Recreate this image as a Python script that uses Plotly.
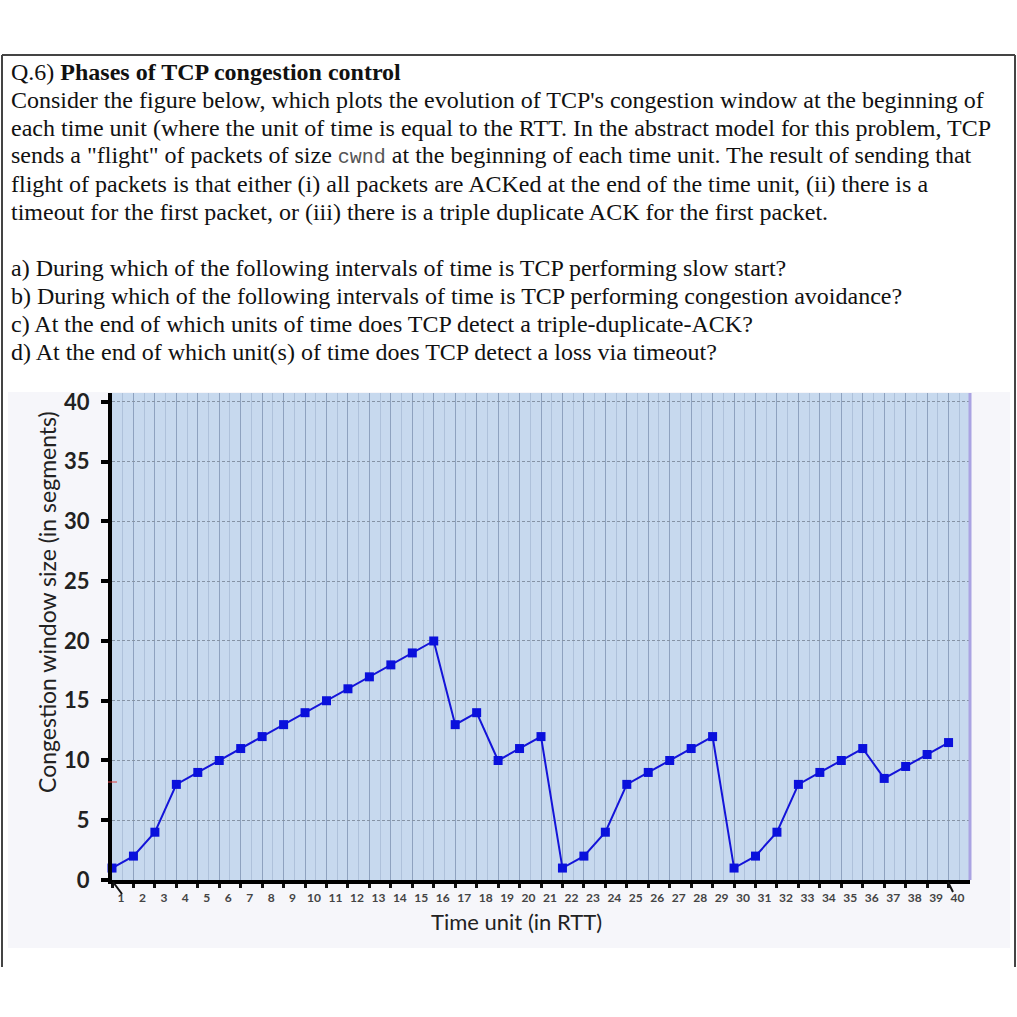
import plotly.graph_objects as go

# ---- data ----
time_units = list(range(1, 41))
cwnd = [1, 2, 4, 8, 9, 10, 11, 12, 13, 14, 15, 16, 17, 18, 19, 20,
        13, 14, 10, 11, 12, 1, 2, 4, 8, 9, 10, 11, 12, 1, 2, 4, 8, 9,
        10, 11, 8.5, 9.5, 10.5, 11.5]
x_tick_labels = [str(t) for t in time_units]
y_ticks = [0, 5, 10, 15, 20, 25, 30, 35, 40]

question_lines = [
    "Q.6) <b>Phases of TCP congestion control</b>",
    "Consider the figure below, which plots the evolution of TCP's congestion window at the beginning of",
    "each time unit (where the unit of time is equal to the RTT. In the abstract model for this problem, TCP",
    'sends a "flight" of packets of size <span style="font-family:Liberation Mono;font-size:20px;color:#555">cwnd</span> at the beginning of each time unit. The result of sending that',
    "flight of packets is that either (i) all packets are ACKed at the end of the time unit, (ii) there is a",
    "timeout for the first packet, or (iii) there is a triple duplicate ACK for the first packet.",
]
sub_questions = [
    "a) During which of the following intervals of time is TCP performing slow start?",
    "b) During which of the following intervals of time is TCP performing congestion avoidance?",
    "c) At the end of which units of time does TCP detect a triple-duplicate-ACK?",
    "d) At the end of which unit(s) of time does TCP detect a loss via timeout?",
]

# ---- layout geometry (pixels) ----
FW, FH = 1017, 1017
L, R, T, B = 112, 970, 393, 880
W, H = R - L, B - T


def px(x):
    return (x - L) / W


def py(y):
    return (B - y) / H


fig = go.Figure()
fig.add_trace(go.Scatter(
    x=time_units, y=cwnd, mode="lines+markers",
    line=dict(color="#1414d9", width=2),
    marker=dict(symbol="square", size=9, color="#0a10dc"),
    showlegend=False, cliponaxis=False,
))

shapes = []
# chart outer background
shapes.append(dict(type="rect", xref="paper", yref="paper", layer="below",
                   x0=px(8), x1=px(1010), y0=py(948), y1=py(392),
                   fillcolor="#f6f6fa", line=dict(width=0)))
# plot area background
shapes.append(dict(type="rect", xref="paper", yref="paper", layer="below",
                   x0=0, x1=1, y0=0, y1=1,
                   fillcolor="#c7d9ee", line=dict(width=0)))
# right purple edge
shapes.append(dict(type="line", xref="paper", yref="paper",
                   x0=1, x1=1, y0=0, y1=1,
                   line=dict(color="#aaa3e2", width=3)))
# page frame
for (x0, y0, x1, y1) in [(2, 55, 1015, 55), (2, 55, 2, 967), (1015, 55, 1015, 967)]:
    shapes.append(dict(type="line", xref="paper", yref="paper",
                       x0=px(x0), x1=px(x1), y0=py(y0), y1=py(y1),
                       line=dict(color="#444444", width=2)))
# small diagonal marks near axis ends
for (x0, y0, x1, y1) in [(113, 882, 122, 894), (948, 882, 953, 892)]:
    shapes.append(dict(type="line", xref="paper", yref="paper",
                       x0=px(x0), x1=px(x1), y0=py(y0), y1=py(y1),
                       line=dict(color="#111111", width=2)))
# tiny red mark on y axis
shapes.append(dict(type="line", xref="paper", yref="paper",
                   x0=px(108), x1=px(117), y0=py(782), y1=py(782),
                   line=dict(color="#e04040", width=1)))

annotations = []
y0 = 72
for i, line in enumerate(question_lines):
    annotations.append(dict(text=line, xref="paper", yref="paper",
                            x=px(9), y=py(y0 + i * 28), xanchor="left", yanchor="middle",
                            showarrow=False,
                            font=dict(family="Liberation Serif", size=24, color="#111")))
y1 = 268
for i, line in enumerate(sub_questions):
    annotations.append(dict(text=line, xref="paper", yref="paper",
                            x=px(9), y=py(y1 + i * 28), xanchor="left", yanchor="middle",
                            showarrow=False,
                            font=dict(family="Liberation Serif", size=24, color="#111")))
# axis titles
annotations.append(dict(text="Time unit (in RTT)", xref="paper", yref="paper",
                        x=px(516), y=py(921), xanchor="center", yanchor="middle",
                        showarrow=False, font=dict(family="Lato", size=22, color="#222")))
annotations.append(dict(text="Congestion window size (in segments)", xref="paper", yref="paper",
                        x=px(47), y=py(602), xanchor="center", yanchor="middle",
                        textangle=-90, showarrow=False,
                        font=dict(family="Lato", size=23, color="#222")))

fig.update_layout(
    width=FW, height=FH,
    margin=dict(l=L, r=FW - R, t=T, b=FH - B, pad=0),
    paper_bgcolor="white",
    plot_bgcolor="rgba(0,0,0,0)",
    shapes=shapes,
    annotations=annotations,
    showlegend=False,
)
fig.update_xaxes(
    range=[1, 41], tickmode="array", tickvals=time_units, ticktext=x_tick_labels,
    ticks="outside", ticklen=4, tickwidth=3, tickcolor="#111",
    ticklabelshift=9,
    tickfont=dict(family="Lato", size=12, color="#444", weight="bold"),
    showline=True, linecolor="#000", linewidth=4,
    showgrid=True, gridcolor="#8ea2bf", gridwidth=1,
    minor=dict(dtick=0.5, tick0=1.5, showgrid=True, gridcolor="#aec1da", gridwidth=1),
    zeroline=False, fixedrange=True,
)
fig.update_yaxes(
    range=[0, 40.75], tickmode="array", tickvals=y_ticks,
    ticks="outside", ticklen=7, tickwidth=4, tickcolor="#000",
    ticklabelstandoff=7,
    tickfont=dict(family="Lato", size=22, color="#222", weight="bold"),
    showline=True, linecolor="#000", linewidth=4,
    showgrid=True, gridcolor="#8593a5", gridwidth=1, griddash="3px,2px",
    zeroline=False, fixedrange=True,
)

fig.write_html("out.html", config={"displayModeBar": False},
               post_script="document.body.style.margin='0';")
